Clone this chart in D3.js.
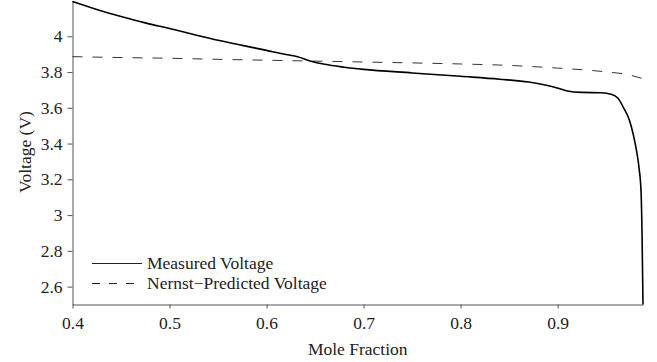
<!DOCTYPE html>
<html>
<head>
<meta charset="utf-8">
<script src="https://cdn.jsdelivr.net/npm/d3@7"></script>
<style>
  body { margin: 0; background: #fff; }
  svg text { font-family: "Liberation Serif", "Times New Roman", serif; fill: #222; }
</style>
</head>
<body>
<script>
// mole fraction / voltage
var measuredX = [0.400, 0.425, 0.450, 0.475, 0.500, 0.525, 0.550, 0.575, 0.600, 0.620,
                 0.632, 0.645, 0.660, 0.680, 0.700, 0.750, 0.800, 0.840, 0.875, 0.895,
                 0.910, 0.925, 0.945, 0.955, 0.962, 0.968, 0.974, 0.978, 0.981, 0.984,
                 0.986, 0.987, 0.988];
var measuredV = [4.194, 4.150, 4.111, 4.075, 4.043, 4.010, 3.978, 3.949, 3.921, 3.898,
                 3.886, 3.862, 3.843, 3.827, 3.815, 3.795, 3.776, 3.760, 3.740, 3.718,
                 3.694, 3.686, 3.684, 3.676, 3.655, 3.600, 3.530, 3.450, 3.370, 3.260,
                 3.130, 2.900, 2.500];

var nernstX = [0.40, 0.45, 0.50, 0.55, 0.60, 0.65, 0.70, 0.75, 0.80, 0.85, 0.90, 0.93, 0.95, 0.97, 0.988];
var nernstV = [3.886, 3.881, 3.877, 3.871, 3.866, 3.861, 3.856, 3.851, 3.845, 3.837, 3.822, 3.811, 3.801, 3.788, 3.763];

var xTicks = [0.4, 0.5, 0.6, 0.7, 0.8, 0.9];
var yTicks = [2.6, 2.8, 3, 3.2, 3.4, 3.6, 3.8, 4];
var legendLabels = ["Measured Voltage", "Nernst\u2212Predicted Voltage"];

var width = 657, height = 362;
var margin = {top: 0.5, right: 14, bottom: 57.5, left: 72.5};
var fontSize = 17.5;

var svg = d3.select("body").append("svg")
    .attr("width", width)
    .attr("height", height);

var x = d3.scaleLinear().domain([0.4, 0.988]).range([margin.left, width - margin.right]);
var y = d3.scaleLinear().domain([2.5, 4.2]).range([height - margin.bottom, margin.top]);

var xAxis = svg.append("g")
    .attr("transform", "translate(0," + (height - margin.bottom) + ")")
    .call(d3.axisBottom(x).tickValues(xTicks).tickSize(4).tickSizeOuter(0).tickPadding(8).tickFormat(d3.format(".1f")));

var yAxis = svg.append("g")
    .attr("transform", "translate(" + margin.left + ",0)")
    .call(d3.axisLeft(y).tickValues(yTicks).tickSize(5).tickSizeOuter(0).tickPadding(5).tickFormat(d3.format("~g")));

[xAxis, yAxis].forEach(function(g) {
    g.selectAll("path, line").attr("stroke", "#555");
    g.selectAll("text").attr("font-size", fontSize).attr("font-family", null).attr("fill", "#222");
});

svg.append("text")
    .attr("x", (margin.left + width - margin.right) / 2)
    .attr("y", 355)
    .attr("text-anchor", "middle")
    .attr("font-size", fontSize)
    .text("Mole Fraction");

svg.append("text")
    .attr("transform", "translate(31,152) rotate(-90)")
    .attr("text-anchor", "middle")
    .attr("font-size", fontSize)
    .text("Voltage (V)");

var line = d3.line()
    .x(function(d) { return x(d[0]); })
    .y(function(d) { return y(d[1]); })
    .curve(d3.curveMonotoneX);

var nernst = nernstX.map(function(v, i) { return [v, nernstV[i]]; });
var measured = measuredX.map(function(v, i) { return [v, measuredV[i]]; });

svg.append("path")
    .datum(nernst)
    .attr("d", line)
    .attr("fill", "none")
    .attr("stroke", "#333")
    .attr("stroke-width", 1)
    .attr("stroke-dasharray", "10,10");

svg.append("path")
    .datum(measured)
    .attr("d", line)
    .attr("fill", "none")
    .attr("stroke", "#000")
    .attr("stroke-width", 1.6);

// legend
var legend = svg.append("g");
legendLabels.forEach(function(label, i) {
    var ly = 263.5 + i * 20;
    legend.append("line")
        .attr("x1", 92).attr("x2", 142)
        .attr("y1", ly).attr("y2", ly)
        .attr("stroke", "#222")
        .attr("stroke-width", 1)
        .attr("stroke-dasharray", i == 1 ? "8,9" : null);
    legend.append("text")
        .attr("x", 147)
        .attr("y", ly)
        .attr("dy", "0.33em")
        .attr("font-size", fontSize)
        .text(label);
});
</script>
</body>
</html>
